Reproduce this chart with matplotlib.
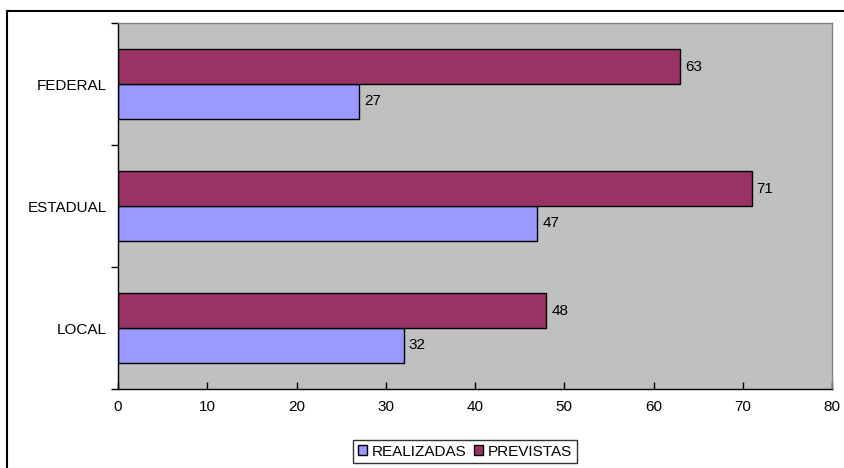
import matplotlib
matplotlib.use("Agg")
import matplotlib.pyplot as plt
from matplotlib.patches import Rectangle
import numpy as np

categories = ["LOCAL", "ESTADUAL", "FEDERAL"]
realizadas = [32, 47, 27]
previstas = [48, 71, 63]
xticks = [0, 10, 20, 30, 40, 50, 60, 70, 80]

plt.rcParams['font.family'] = ['Liberation Sans', 'DejaVu Sans']
FS = 11

fig = plt.figure(figsize=(8.44, 4.68), dpi=100)
W, H = 844, 468
ax = fig.add_axes([118 / W, 1 - 389 / H, (832 - 118) / W, (389 - 23) / H])
ax.set_facecolor('#C0C0C0')

y = np.arange(len(categories))
bw = 1 / 3.5
b1 = ax.barh(y - bw / 2, realizadas, height=bw, color='#9999FF', edgecolor='black', linewidth=1, label='REALIZADAS')
b2 = ax.barh(y + bw / 2, previstas, height=bw, color='#993366', edgecolor='black', linewidth=1, label='PREVISTAS')

for bars, vals in ((b1, realizadas), (b2, previstas)):
    for rect, v in zip(bars, vals):
        ax.annotate(str(v), (v, rect.get_y() + rect.get_height() / 2), xytext=(3.5, 0),
                    textcoords='offset points', va='center', ha='left', fontsize=FS)

ax.set_xlim(0, 80)
ax.set_ylim(-0.5, 2.5)
ax.set_xticks(xticks)
ax.set_xticklabels([str(t) for t in xticks], fontsize=FS)
ax.set_yticks(y)
ax.set_yticklabels(categories, fontsize=FS)
ax.set_yticks([-0.5, 0.5, 1.5, 2.5], minor=True)
ax.tick_params(axis='y', which='major', length=0, pad=8)
ax.tick_params(axis='y', which='minor', length=5, direction='out', width=1)
ax.tick_params(axis='x', which='major', length=5, direction='in', width=1, pad=8)

for s in ('top', 'right'):
    ax.spines[s].set_color('#808080')
    ax.spines[s].set_linewidth(1)
for s in ('left', 'bottom'):
    ax.spines[s].set_color('black')
    ax.spines[s].set_linewidth(1)

leg = fig.legend(handles=[b1, b2], loc='upper center', bbox_to_anchor=(465 / W, 1 - 440 / H),
                 ncol=2, frameon=True, fontsize=FS, handlelength=0.6, handleheight=0.6,
                 handletextpad=0.3, columnspacing=0.5, borderpad=0.3, fancybox=False,
                 borderaxespad=0)
leg.get_frame().set_edgecolor('black')
leg.get_frame().set_linewidth(1)

fig.patches.append(Rectangle((7 / W, -0.1), 1.0, 1 - 11 / H + 0.1, transform=fig.transFigure,
                             fill=False, edgecolor='black', linewidth=1.5))

fig.savefig('out.png', dpi=100)
